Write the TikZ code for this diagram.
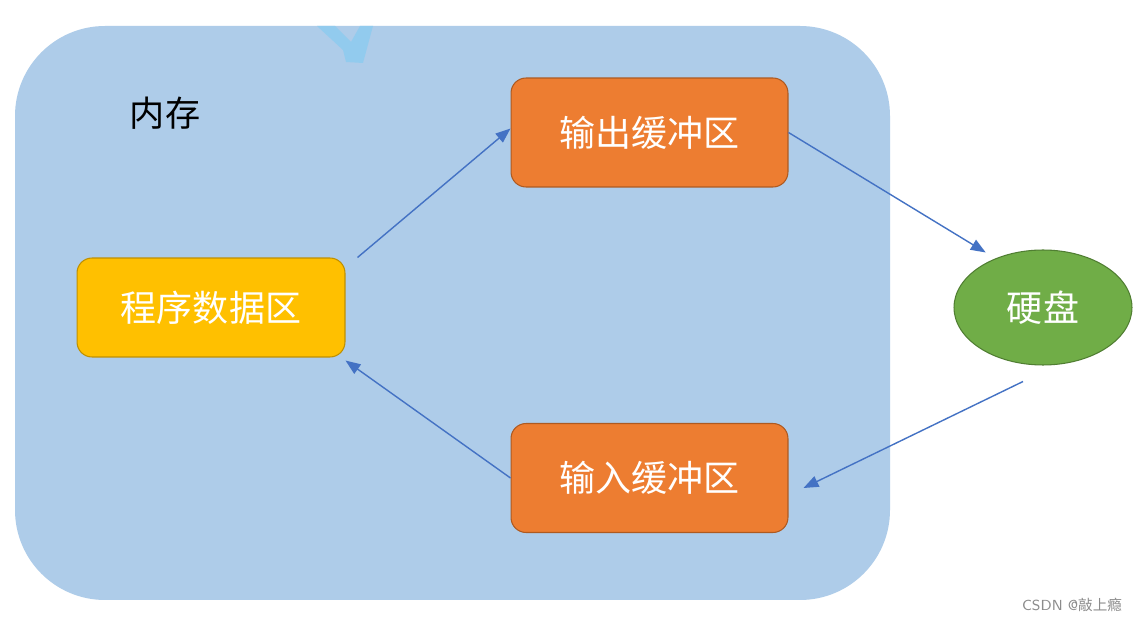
\documentclass[tikz,border=0pt]{standalone}
\usepackage{fontspec}
\usepackage{tikz}
\usetikzlibrary{positioning,arrows.meta,shapes.geometric}
\usepackage{xcolor}
\newfontfamily\cjk{Noto Sans CJK SC}
\definecolor{memblue}{RGB}{174,204,233}
\definecolor{markblue}{RGB}{146,203,238}
\definecolor{progfill}{RGB}{255,192,0}
\definecolor{progline}{RGB}{191,144,0}
\definecolor{buffill}{RGB}{237,125,49}
\definecolor{bufline}{RGB}{174,90,33}
\definecolor{diskfill}{RGB}{112,173,71}
\definecolor{diskline}{RGB}{80,126,50}
\definecolor{flow}{RGB}{68,114,196}

\begin{document}
\begin{tikzpicture}[
  x=0.02cm, y=-0.02cm,
  area/.style={rectangle, rounded corners=0.3cm, line width=0.6pt, inner sep=0pt, text=white, font=\cjk\fontsize{20.5}{24}\selectfont},
  progbox/.style={area, draw=progline, fill=progfill, minimum width=5.36cm, minimum height=1.98cm},
  bufbox/.style={area, draw=bufline, fill=buffill, minimum width=5.54cm, minimum height=2.18cm},
  diskbox/.style={ellipse, draw=diskline, fill=diskfill, line width=0.6pt, inner sep=0pt, minimum width=3.56cm, minimum height=2.3cm, text=white, font=\cjk\fontsize{20.5}{24}\selectfont},
  rel/.style={-{Triangle[length=8.5pt,width=6.5pt]}, line width=0.8pt, draw=flow}
]
\fill[white] (0,0) rectangle (1137,621);
\useasboundingbox (0,0) rectangle (1137,621);

% memory area
\fill[memblue, rounded corners=1.8cm] (15,26) rectangle (890,600);
\fill[markblue] (317,26) -- (335,26) -- (351,42) -- (360,26) -- (373,26) -- (363,63) -- (346,62) -- (343,50) -- cycle;
\node[font=\cjk\fontsize{20}{24}\selectfont] (mem) at (165,113) {内存};

\node[progbox] (prog) at (211,307.5) {程序数据区};
\node[bufbox] (out) at (649.5,132.5) {输出缓冲区};
\node[bufbox] (inp) at (649.5,478) {输入缓冲区};
\node[diskbox] (disk) at (1043,307.5) {硬盘};

\draw[rel] ([shift={(12,0)}]prog.north east) -- ([shift={(0,-4)}]out.west);
\draw[rel] (out.east) -- ([shift={(6,-14)}]disk.north west);
\draw[rel] ([shift={(-20,16)}]disk.south) -- ([shift={(15,10)}]inp.east);
\draw[rel] (inp.west) -- ([shift={(0,3)}]prog.south east);

\node[text=black!45, font=\sffamily\fontsize{8.3}{10}\selectfont] (mark) at (1072,605) {CSDN @{\cjk 敲上瘾}};
\end{tikzpicture}
\end{document}
